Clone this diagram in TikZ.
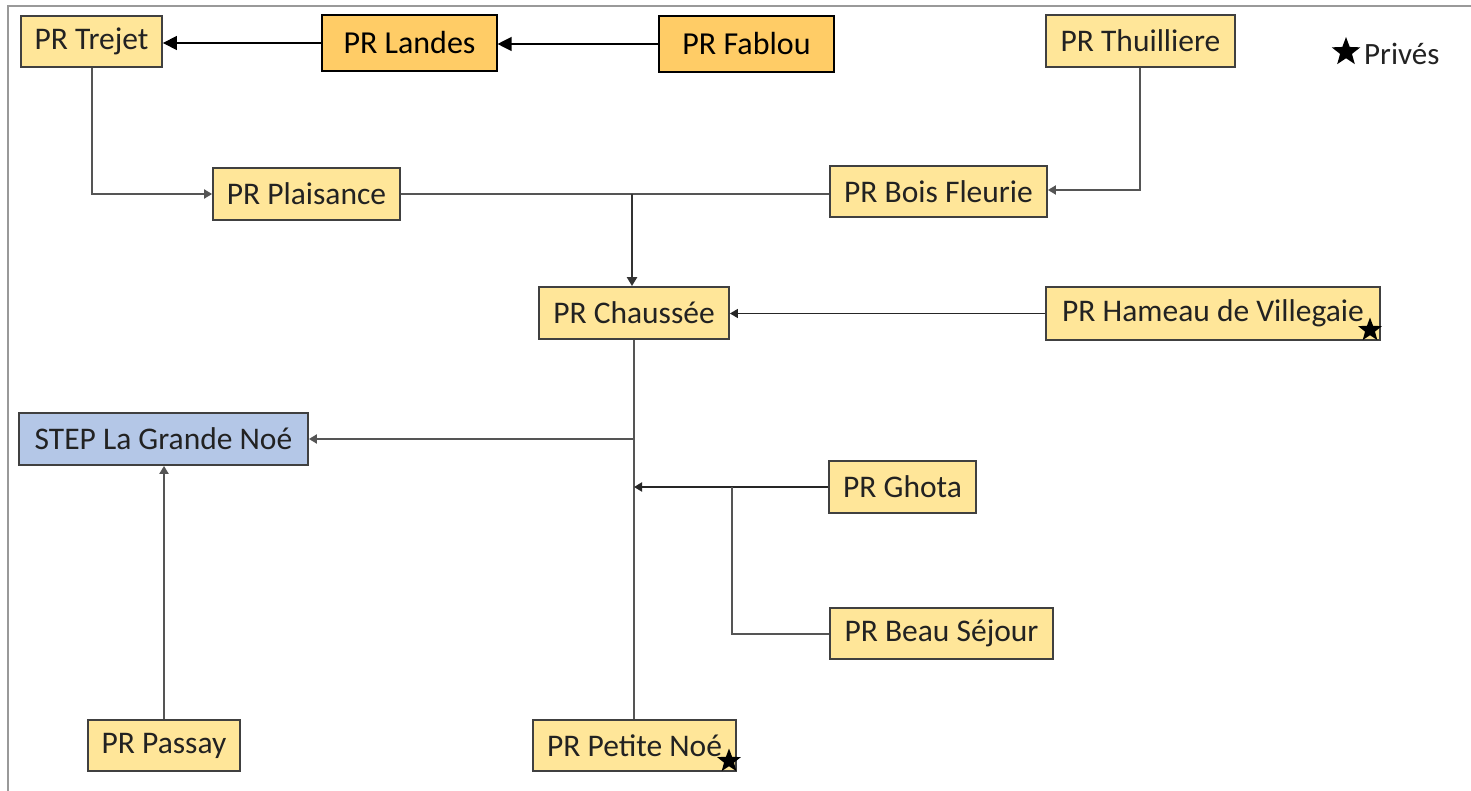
\documentclass[tikz,border=0pt]{standalone}
\usepackage{fontspec}
\setmainfont{Carlito}
\usetikzlibrary{arrows.meta,shapes.geometric}
\definecolor{boxyellow}{HTML}{FFE699}
\definecolor{boxorange}{HTML}{FFCC66}
\definecolor{boxblue}{HTML}{B4C7E7}
\definecolor{boxline}{HTML}{404040}
\definecolor{wire}{HTML}{555555}
\definecolor{txt}{HTML}{222222}
\tikzset{
  pbox/.style={draw=boxline, line width=1.8pt, fill=boxyellow, inner sep=0pt,
    text=txt, font=\fontsize{31.5}{36}\selectfont},
  obox/.style={draw=black, line width=1.1pt, fill=boxorange, inner sep=0pt,
    text=black, font=\fontsize{32}{37}\selectfont},
  sbox/.style={pbox, fill=boxblue},
  wireline/.style={draw=wire, line width=2pt},
  bigarrow/.style={draw=black, line width=1.2pt, -{Triangle[length=14pt,width=14pt]}},
  smallarrow/.style={wireline, -{Triangle[length=8pt,width=9pt]}},
  privestar/.style={star, star points=5, star point ratio=2.4, fill=black, draw=none,
    minimum size=25pt, inner sep=0pt},
}
\begin{document}
\begin{tikzpicture}[x=1pt,y=-1pt]
\useasboundingbox (0,0) rectangle (1471,791);
\fill[white] (0,0) rectangle (1471,791);
% frame
\draw[draw=gray!80, line width=2pt] (8,791) -- (8,6) -- (1471,6);

% nodes
\node[pbox, minimum width=141pt, minimum height=51pt] (trejet) at (91.5,41.5) {PR Trejet};
\node[obox, minimum width=175pt, minimum height=56pt] (landes) at (409.5,43) {PR Landes};
\node[obox, minimum width=175pt, minimum height=56pt] (fablou) at (746.5,44) {PR Fablou};
\node[pbox, minimum width=189pt, minimum height=52pt] (thuil) at (1140.5,41) {PR Thuilliere};
\node[pbox, minimum width=187pt, minimum height=52pt] (plais) at (306.5,194) {PR Plaisance};
\node[pbox, minimum width=217pt, minimum height=51pt] (bois) at (938.5,191.5) {PR Bois Fleurie};
\node[pbox, minimum width=190pt, minimum height=52pt] (chaus) at (634,313) {PR Chaussée};
\node[pbox, minimum width=334pt, minimum height=53pt] (hameau) at (1213,313.5) {PR Hameau de Villegaie};
\node[sbox, minimum width=289pt, minimum height=52pt] (step) at (163.5,439) {STEP La Grande Noé};
\node[pbox, minimum width=147pt, minimum height=52pt] (ghota) at (902.5,487) {PR Ghota};
\node[pbox, minimum width=223pt, minimum height=51pt] (beau) at (941.5,633.5) {PR Beau Séjour};
\node[pbox, minimum width=152pt, minimum height=51pt] (passay) at (164,745.5) {PR Passay};
\node[pbox, minimum width=203pt, minimum height=51pt] (petite) at (634.5,745.5) {PR Petite Noé};

% private markers
\node[privestar] (starham) at (1370,330) {};
\node[privestar] (starpet) at (729,761) {};
\node[privestar, minimum size=30pt] (starleg) at (1346,52) {};
\node[anchor=west, inner sep=0pt, text=txt, font=\fontsize{31}{36}\selectfont] (privtxt) at (1364,54) {Privés};

% junctions
\coordinate (j1) at (632,194);
\coordinate (j2) at (634,439);
\coordinate (j3) at (634,487);
\coordinate (j4) at (732,487);
\coordinate (j5) at (732,634);
\coordinate (j6) at (92,194);
\coordinate (j7) at (1140,190);

% connectors
\draw[bigarrow] (landes.west) -- (landes.west -| trejet.east);
\draw[bigarrow] (fablou.west) -- (fablou.west -| landes.east);
\draw[smallarrow] (trejet.south -| j6) -- (j6) -- (plais.west |- j6);
\draw[wireline] (plais.east) -- (plais.east -| bois.west);
\draw[draw=black!80, line width=2.6pt, -{Triangle[length=9pt,width=10pt]}] (j1) -- (chaus.north -| j1);
\draw[smallarrow] (thuil.south -| j7) -- (j7) -- (bois.east |- j7);
\draw[smallarrow, draw=black!85, line width=1.5pt] (hameau.west) -- (chaus.east |- hameau.west);
\draw[wireline] (chaus.south) -- (petite.north -| chaus.south);
\draw[smallarrow] (j2) -- (step.east |- j2);
\draw[smallarrow, draw=black!85] (ghota.west |- j3) -- (j3);
\draw[wireline] (j4) -- (j5) -- (beau.west |- j5);
\draw[smallarrow] (passay.north) -- (step.south -| passay.north);
\end{tikzpicture}
\end{document}
